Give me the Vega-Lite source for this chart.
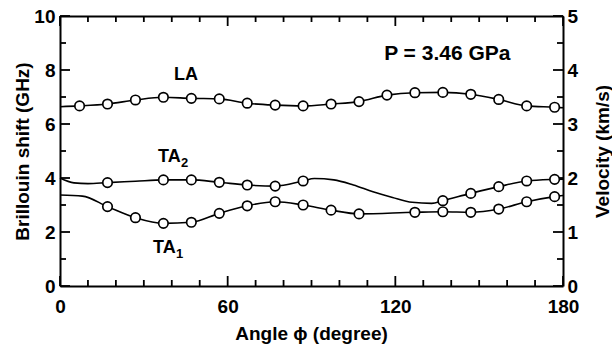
{
  "$schema": "https://vega.github.io/schema/vega-lite/v6.json",
  "width": 503,
  "height": 270,
  "autosize": {"type": "none"},
  "padding": {"left": 60, "top": 16, "right": 49, "bottom": 65},
  "background": "white",
  "config": {
    "font": "Liberation Sans",
    "view": {"stroke": null, "fill": null},
    "axis": {
      "domainColor": "black",
      "domainWidth": 2,
      "tickColor": "black",
      "tickWidth": 1.8,
      "labelColor": "black",
      "titleColor": "black",
      "labelFont": "Liberation Sans",
      "titleFont": "Liberation Sans",
      "labelFontSize": 19,
      "labelFontWeight": "bold",
      "titleFontSize": 19,
      "titleFontWeight": "bold",
      "grid": false,
      "labelFlush": false,
      "labelOverlap": false
    }
  },
  "datasets": {
    "curves": [
      {"series": "LA", "angle": 0, "ghz": 6.64, "marker": false},
      {"series": "LA", "angle": 7, "ghz": 6.67, "marker": true},
      {"series": "LA", "angle": 17, "ghz": 6.74, "marker": true},
      {"series": "LA", "angle": 27, "ghz": 6.89, "marker": true},
      {"series": "LA", "angle": 37, "ghz": 6.99, "marker": true},
      {"series": "LA", "angle": 47, "ghz": 6.95, "marker": true},
      {"series": "LA", "angle": 57, "ghz": 6.93, "marker": true},
      {"series": "LA", "angle": 67, "ghz": 6.77, "marker": true},
      {"series": "LA", "angle": 77, "ghz": 6.70, "marker": true},
      {"series": "LA", "angle": 87, "ghz": 6.67, "marker": true},
      {"series": "LA", "angle": 97, "ghz": 6.74, "marker": true},
      {"series": "LA", "angle": 107, "ghz": 6.83, "marker": true},
      {"series": "LA", "angle": 117, "ghz": 7.07, "marker": true},
      {"series": "LA", "angle": 127, "ghz": 7.16, "marker": true},
      {"series": "LA", "angle": 137, "ghz": 7.17, "marker": true},
      {"series": "LA", "angle": 147, "ghz": 7.10, "marker": true},
      {"series": "LA", "angle": 157, "ghz": 6.91, "marker": true},
      {"series": "LA", "angle": 167, "ghz": 6.67, "marker": true},
      {"series": "LA", "angle": 177, "ghz": 6.62, "marker": true},
      {"series": "LA", "angle": 180, "ghz": 6.60, "marker": false},
      {"series": "TA2", "angle": 0, "ghz": 4.0, "marker": false},
      {"series": "TA2", "angle": 5, "ghz": 3.82, "marker": false},
      {"series": "TA2", "angle": 10, "ghz": 3.79, "marker": false},
      {"series": "TA2", "angle": 17, "ghz": 3.83, "marker": true},
      {"series": "TA2", "angle": 27, "ghz": 3.88, "marker": false},
      {"series": "TA2", "angle": 37, "ghz": 3.93, "marker": true},
      {"series": "TA2", "angle": 47, "ghz": 3.93, "marker": true},
      {"series": "TA2", "angle": 57, "ghz": 3.84, "marker": true},
      {"series": "TA2", "angle": 67, "ghz": 3.74, "marker": true},
      {"series": "TA2", "angle": 77, "ghz": 3.70, "marker": true},
      {"series": "TA2", "angle": 87, "ghz": 3.89, "marker": true},
      {"series": "TA2", "angle": 91, "ghz": 3.98, "marker": false},
      {"series": "TA2", "angle": 98, "ghz": 3.93, "marker": false},
      {"series": "TA2", "angle": 105, "ghz": 3.74, "marker": false},
      {"series": "TA2", "angle": 112, "ghz": 3.49, "marker": false},
      {"series": "TA2", "angle": 119, "ghz": 3.28, "marker": false},
      {"series": "TA2", "angle": 126, "ghz": 3.10, "marker": false},
      {"series": "TA2", "angle": 133, "ghz": 3.06, "marker": false},
      {"series": "TA2", "angle": 137, "ghz": 3.16, "marker": true},
      {"series": "TA2", "angle": 147, "ghz": 3.43, "marker": true},
      {"series": "TA2", "angle": 157, "ghz": 3.68, "marker": true},
      {"series": "TA2", "angle": 167, "ghz": 3.89, "marker": true},
      {"series": "TA2", "angle": 177, "ghz": 3.95, "marker": true},
      {"series": "TA2", "angle": 180, "ghz": 3.96, "marker": false},
      {"series": "TA1", "angle": 0, "ghz": 3.37, "marker": false},
      {"series": "TA1", "angle": 8, "ghz": 3.33, "marker": false},
      {"series": "TA1", "angle": 17, "ghz": 2.94, "marker": true},
      {"series": "TA1", "angle": 27, "ghz": 2.53, "marker": true},
      {"series": "TA1", "angle": 37, "ghz": 2.32, "marker": true},
      {"series": "TA1", "angle": 47, "ghz": 2.36, "marker": true},
      {"series": "TA1", "angle": 57, "ghz": 2.69, "marker": true},
      {"series": "TA1", "angle": 67, "ghz": 2.97, "marker": true},
      {"series": "TA1", "angle": 77, "ghz": 3.12, "marker": true},
      {"series": "TA1", "angle": 87, "ghz": 3.00, "marker": true},
      {"series": "TA1", "angle": 97, "ghz": 2.81, "marker": true},
      {"series": "TA1", "angle": 107, "ghz": 2.67, "marker": true},
      {"series": "TA1", "angle": 127, "ghz": 2.73, "marker": true},
      {"series": "TA1", "angle": 137, "ghz": 2.75, "marker": true},
      {"series": "TA1", "angle": 147, "ghz": 2.73, "marker": true},
      {"series": "TA1", "angle": 157, "ghz": 2.85, "marker": true},
      {"series": "TA1", "angle": 167, "ghz": 3.12, "marker": true},
      {"series": "TA1", "angle": 177, "ghz": 3.31, "marker": true},
      {"series": "TA1", "angle": 180, "ghz": 3.35, "marker": false}
    ],
    "labels": [
      {"text": "LA", "sub": "", "angle": 40.8, "ghz": 7.63},
      {"text": "TA", "sub": "2", "angle": 35.1, "ghz": 4.6},
      {"text": "TA", "sub": "1", "angle": 33.3, "ghz": 1.21}
    ],
    "note": [
      {"text": "P = 3.46 GPa", "angle": 116, "ghz": 8.37}
    ],
    "velocity": [
      {"angle": 0, "v": 0},
      {"angle": 180, "v": 5}
    ],
    "xticks": [
      {"angle": 0, "kind": "major"}, {"angle": 10, "kind": "minor"}, {"angle": 20, "kind": "minor"},
      {"angle": 30, "kind": "minor"}, {"angle": 40, "kind": "minor"}, {"angle": 50, "kind": "minor"},
      {"angle": 60, "kind": "major"}, {"angle": 70, "kind": "minor"}, {"angle": 80, "kind": "minor"},
      {"angle": 90, "kind": "minor"}, {"angle": 100, "kind": "minor"}, {"angle": 110, "kind": "minor"},
      {"angle": 120, "kind": "major"}, {"angle": 130, "kind": "minor"}, {"angle": 140, "kind": "minor"},
      {"angle": 150, "kind": "minor"}, {"angle": 160, "kind": "minor"}, {"angle": 170, "kind": "minor"},
      {"angle": 180, "kind": "major"}
    ],
    "yticks": [
      {"ghz": 0, "kind": "major"}, {"ghz": 1, "kind": "minor"}, {"ghz": 2, "kind": "major"},
      {"ghz": 3, "kind": "minor"}, {"ghz": 4, "kind": "major"}, {"ghz": 5, "kind": "minor"},
      {"ghz": 6, "kind": "major"}, {"ghz": 7, "kind": "minor"}, {"ghz": 8, "kind": "major"},
      {"ghz": 9, "kind": "minor"}, {"ghz": 10, "kind": "major"}
    ]
  },
  "layer": [
    {
      "data": {"name": "curves"},
      "mark": {"type": "line", "interpolate": "monotone", "color": "black", "strokeWidth": 1.6},
      "encoding": {
        "x": {
          "field": "angle", "type": "quantitative",
          "scale": {"domain": [0, 180], "nice": false},
          "axis": {
            "orient": "bottom",
            "values": [0, 60, 120, 180],
            "ticks": false,
            "labelPadding": 11,
            "title": "Angle ϕ (degree)",
            "titleX": 251,
            "titleY": 47,
            "titleAlign": "center",
            "titleBaseline": "middle"
          }
        },
        "y": {
          "field": "ghz", "type": "quantitative",
          "scale": {"domain": [0, 10], "nice": false},
          "axis": {
            "orient": "left",
            "values": [0, 2, 4, 6, 8, 10],
            "ticks": false,
            "labelPadding": 5,
            "title": "Brillouin shift (GHz)",
            "titleX": -38,
            "titleY": 135,
            "titleAngle": 270,
            "titleAlign": "center",
            "titleBaseline": "middle"
          }
        },
        "detail": {"field": "series"}
      }
    },
    {
      "data": {"name": "xticks"},
      "transform": [{"filter": "datum.kind === 'major'"}],
      "mark": {"type": "tick", "orient": "vertical", "size": 10, "thickness": 1.8, "yOffset": -5, "color": "black", "opacity": 1},
      "encoding": {
        "x": {"field": "angle", "type": "quantitative", "axis": null},
        "y": {"datum": 0, "type": "quantitative", "scale": {"domain": [0, 10], "nice": false}, "axis": null}
      }
    },
    {
      "data": {"name": "xticks"},
      "transform": [{"filter": "datum.kind === 'minor'"}],
      "mark": {"type": "tick", "orient": "vertical", "size": 6, "thickness": 1.8, "yOffset": -3, "color": "black", "opacity": 1},
      "encoding": {
        "x": {"field": "angle", "type": "quantitative", "axis": null},
        "y": {"datum": 0, "type": "quantitative", "scale": {"domain": [0, 10], "nice": false}, "axis": null}
      }
    },
    {
      "data": {"name": "xticks"},
      "transform": [{"filter": "datum.kind === 'major'"}],
      "mark": {"type": "tick", "orient": "vertical", "size": 10, "thickness": 1.8, "yOffset": 5, "color": "black", "opacity": 1},
      "encoding": {
        "x": {"field": "angle", "type": "quantitative", "axis": null},
        "y": {"datum": 10, "type": "quantitative", "scale": {"domain": [0, 10], "nice": false}, "axis": null}
      }
    },
    {
      "data": {"name": "xticks"},
      "transform": [{"filter": "datum.kind === 'minor'"}],
      "mark": {"type": "tick", "orient": "vertical", "size": 6, "thickness": 1.8, "yOffset": 3, "color": "black", "opacity": 1},
      "encoding": {
        "x": {"field": "angle", "type": "quantitative", "axis": null},
        "y": {"datum": 10, "type": "quantitative", "scale": {"domain": [0, 10], "nice": false}, "axis": null}
      }
    },
    {
      "data": {"name": "yticks"},
      "transform": [{"filter": "datum.kind === 'major'"}],
      "mark": {"type": "tick", "orient": "horizontal", "size": 10, "thickness": 1.8, "xOffset": 5, "color": "black", "opacity": 1},
      "encoding": {
        "x": {"datum": 0, "type": "quantitative", "axis": null},
        "y": {"field": "ghz", "type": "quantitative", "scale": {"domain": [0, 10], "nice": false}, "axis": null}
      }
    },
    {
      "data": {"name": "yticks"},
      "transform": [{"filter": "datum.kind === 'minor'"}],
      "mark": {"type": "tick", "orient": "horizontal", "size": 6, "thickness": 1.8, "xOffset": 3, "color": "black", "opacity": 1},
      "encoding": {
        "x": {"datum": 0, "type": "quantitative", "axis": null},
        "y": {"field": "ghz", "type": "quantitative", "scale": {"domain": [0, 10], "nice": false}, "axis": null}
      }
    },
    {
      "data": {"name": "yticks"},
      "transform": [{"filter": "datum.kind === 'major'"}],
      "mark": {"type": "tick", "orient": "horizontal", "size": 10, "thickness": 1.8, "xOffset": -5, "color": "black", "opacity": 1},
      "encoding": {
        "x": {"datum": 180, "type": "quantitative", "axis": null},
        "y": {"field": "ghz", "type": "quantitative", "scale": {"domain": [0, 10], "nice": false}, "axis": null}
      }
    },
    {
      "data": {"name": "yticks"},
      "transform": [{"filter": "datum.kind === 'minor'"}],
      "mark": {"type": "tick", "orient": "horizontal", "size": 6, "thickness": 1.8, "xOffset": -3, "color": "black", "opacity": 1},
      "encoding": {
        "x": {"datum": 180, "type": "quantitative", "axis": null},
        "y": {"field": "ghz", "type": "quantitative", "scale": {"domain": [0, 10], "nice": false}, "axis": null}
      }
    },
    {
      "data": {"name": "curves"},
      "transform": [{"filter": "datum.marker"}],
      "mark": {"type": "point", "shape": "circle", "filled": true, "fill": "white", "stroke": "black", "strokeWidth": 1.7, "size": 90, "opacity": 1},
      "encoding": {
        "x": {"field": "angle", "type": "quantitative", "axis": null},
        "y": {"field": "ghz", "type": "quantitative", "scale": {"domain": [0, 10], "nice": false}, "axis": null}
      }
    },
    {
      "data": {"name": "labels"},
      "mark": {"type": "text", "align": "left", "baseline": "alphabetic", "fontSize": 18, "fontWeight": "bold", "color": "black"},
      "encoding": {
        "x": {"field": "angle", "type": "quantitative", "axis": null},
        "y": {"field": "ghz", "type": "quantitative", "scale": {"domain": [0, 10], "nice": false}, "axis": null},
        "text": {"field": "text"}
      }
    },
    {
      "data": {"name": "labels"},
      "mark": {"type": "text", "align": "left", "baseline": "alphabetic", "fontSize": 13, "fontWeight": "bold", "color": "black", "dx": 23, "dy": 5},
      "encoding": {
        "x": {"field": "angle", "type": "quantitative", "axis": null},
        "y": {"field": "ghz", "type": "quantitative", "scale": {"domain": [0, 10], "nice": false}, "axis": null},
        "text": {"field": "sub"}
      }
    },
    {
      "data": {"name": "note"},
      "mark": {"type": "text", "align": "left", "baseline": "alphabetic", "fontSize": 21, "fontWeight": "bold", "color": "black"},
      "encoding": {
        "x": {"field": "angle", "type": "quantitative", "axis": null},
        "y": {"field": "ghz", "type": "quantitative", "scale": {"domain": [0, 10], "nice": false}, "axis": null},
        "text": {"field": "text"}
      }
    },
    {
      "data": {"name": "velocity"},
      "mark": {"type": "point", "opacity": 0},
      "encoding": {
        "x": {
          "field": "angle", "type": "quantitative",
          "axis": {"orient": "top", "values": [0, 60, 120, 180], "labels": false, "ticks": false, "title": null}
        },
        "y": {
          "field": "v", "type": "quantitative",
          "scale": {"domain": [0, 5], "nice": false},
          "axis": {
            "orient": "right",
            "values": [0, 1, 2, 3, 4, 5],
            "format": "d",
            "ticks": false,
            "labelPadding": 4,
            "title": "Velocity (km/s)",
            "titleX": 39,
            "titleY": 135,
            "titleAngle": 270,
            "titleAlign": "center",
            "titleBaseline": "middle"
          }
        }
      }
    }
  ],
  "resolve": {"scale": {"y": "independent"}, "axis": {"x": "independent", "y": "independent"}}
}
